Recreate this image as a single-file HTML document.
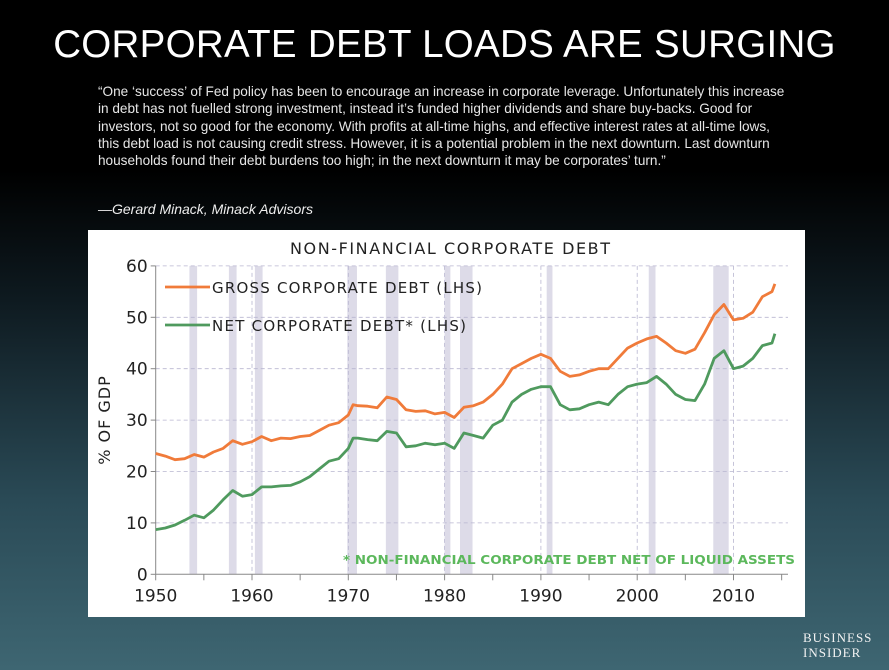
<!DOCTYPE html>
<html><head><meta charset="utf-8">
<style>
body{margin:0;width:889px;height:670px;overflow:hidden;font-family:"Liberation Sans",sans-serif;
background:linear-gradient(to bottom,#000 0px,#000 170px,#0e1a20 300px,#2a4a56 500px,#3e6672 670px);position:relative;}
#title{position:absolute;left:0;width:889px;top:23px;text-align:center;color:#fff;font-size:38.5px;letter-spacing:0.3px;}
#quote{position:absolute;left:98px;top:83px;color:#e6e6e6;font-size:13.6px;line-height:17.3px;white-space:nowrap;}
#attr{position:absolute;left:98px;top:201px;color:#eee;font-size:14px;font-style:italic;}
#chart{position:absolute;left:88px;top:230px;width:717px;height:387px;background:#fff;}
#logo{position:absolute;left:803px;top:630px;color:#f2f2f2;font-family:"Liberation Serif",serif;font-size:13px;line-height:15px;letter-spacing:1px;}
</style></head><body>
<div id="title">CORPORATE DEBT LOADS ARE SURGING</div>
<div id="quote">“One ‘success’ of Fed policy has been to encourage an increase in corporate leverage. Unfortunately this increase<br>in debt has not fuelled strong investment, instead it’s funded higher dividends and share buy-backs. Good for<br>investors, not so good for the economy. With profits at all-time highs, and effective interest rates at all-time lows,<br>this debt load is not causing credit stress. However, it is a potential problem in the next downturn. Last downturn<br>households found their debt burdens too high; in the next downturn it may be corporates’ turn.”</div>
<div id="attr">—Gerard Minack, Minack Advisors</div>
<div id="chart">
<svg id="svg" width="717" height="387" xmlns="http://www.w3.org/2000/svg" font-family="Verdana, 'DejaVu Sans', sans-serif"></svg>
</div>
<div id="logo">BUSINESS<br>INSIDER</div>
<script>
const yTicks=[0,10,20,30,40,50,60];
const xTicks=[1950,1960,1970,1980,1990,2000,2010];
const recessions=[[1953.5,1954.3],[1957.6,1958.4],[1960.3,1961.1],[1969.9,1970.9],[1973.9,1975.2],[1980,1980.6],[1981.6,1982.9],[1990.6,1991.2],[2001.2,2001.9],[2007.9,2009.5]];
const years=[1950,1951,1952,1953,1954,1955,1956,1957,1958,1959,1960,1961,1962,1963,1964,1965,1966,1967,1968,1969,1970,1970.5,1971,1972,1973,1974,1975,1976,1977,1978,1979,1980,1981,1982,1983,1984,1985,1986,1987,1988,1989,1990,1991,1992,1993,1994,1995,1996,1997,1998,1999,2000,2001,2002,2003,2004,2005,2006,2007,2008,2009,2010,2011,2012,2013,2014,2014.3];
const gross=[23.5,23,22.3,22.5,23.3,22.8,23.8,24.5,26,25.3,25.8,26.8,26,26.5,26.4,26.8,27,28,29,29.5,31,33,32.8,32.7,32.4,34.5,34,32,31.7,31.8,31.2,31.5,30.5,32.5,32.8,33.5,35,37,40,41,42,42.8,42,39.5,38.5,38.8,39.5,40,40,42,44,45,45.8,46.3,45,43.5,43,43.8,47,50.5,52.5,49.5,49.8,51,54,55,56.5];
const net=[8.7,9,9.6,10.5,11.5,11,12.5,14.5,16.3,15.2,15.5,17,17,17.2,17.3,18,19,20.5,22,22.5,24.5,26.5,26.5,26.2,26,27.8,27.5,24.8,25,25.5,25.2,25.5,24.5,27.5,27,26.5,29,30,33.5,35,36,36.5,36.5,33,32,32.2,33,33.5,33,35,36.5,37,37.3,38.5,37,35,34,33.8,37,42,43.5,40,40.5,42,44.5,45,46.8];
const X0=67.7,XS=9.63,Y0=344.3,YS=5.14,XR=700;
const x=v=>X0+(v-1950)*XS, y=v=>Y0-v*YS;
const svg=document.getElementById('svg');const NS='http://www.w3.org/2000/svg';
function mk(t,a,txt){const e=document.createElementNS(NS,t);for(const k in a)e.setAttribute(k,a[k]);if(txt!==undefined)e.textContent=txt;svg.appendChild(e);return e;}
recessions.forEach(r=>{const e=mk('rect',{x:x(r[0]),y:y(60),width:x(r[1])-x(r[0]),height:y(0)-y(60),fill:'#dddbe8'});

});
yTicks.forEach(t=>{if(t>0){const g=mk('line',{x1:X0,x2:XR,y1:y(t),y2:y(t),stroke:'#b8b6d0','stroke-dasharray':'4,3','stroke-width':0.8});

}
const l=mk('text',{x:X0-8,y:y(t)+6,'text-anchor':'end','font-size':17,fill:'#222'},t);


mk('line',{x1:X0-5,x2:X0,y1:y(t),y2:y(t),stroke:'#888'});});
for(let yr=1950;yr<=2015;yr+=5){mk('line',{x1:x(yr),x2:x(yr),y1:y(0),y2:y(0)+6,stroke:'#888'});}
xTicks.forEach(t=>{if(t>1950){const g=mk('line',{x1:x(t),x2:x(t),y1:y(60),y2:y(0),stroke:'#b8b6d0','stroke-dasharray':'4,3','stroke-width':0.8});

}
const l=mk('text',{x:x(t),y:y(0)+27,'text-anchor':'middle','font-size':17,fill:'#222'},t);

});
mk('line',{x1:X0,x2:X0,y1:y(60),y2:y(0),stroke:'#888'});
mk('line',{x1:X0,x2:XR,y1:y(0),y2:y(0),stroke:'#888'});
function line(data,col,name){const d=data.map((v,i)=>(i?'L':'M')+x(years[i]).toFixed(1)+','+y(v).toFixed(1)).join('');
const p=mk('path',{d:d,fill:'none',stroke:col,'stroke-width':2.8,'stroke-linejoin':'round'});

}
line(gross,'#f07b3a','gross-debt-line');
line(net,'#4f9a5e','net-debt-line');
const t=mk('text',{x:202,y:24,'font-size':16,textLength:320,lengthAdjust:'spacing',fill:'#222'},'NON-FINANCIAL CORPORATE DEBT');


const yl=mk('text',{x:0,y:0,'text-anchor':'middle','font-size':16,'letter-spacing':1,fill:'#222',transform:'translate(22,190) rotate(-90)'},'% OF GDP');


[['#f07b3a','GROSS CORPORATE DEBT (LHS)',57,270],['#4f9a5e','NET CORPORATE DEBT* (LHS)',95,254]].forEach(l=>{
mk('line',{x1:77,x2:122,y1:l[2],y2:l[2],stroke:l[0],'stroke-width':2.8});
const e=mk('text',{x:124,y:l[2]+6,'font-size':15,textLength:l[3],lengthAdjust:'spacing',fill:'#222'},l[1]);

});
const n=mk('text',{x:255,y:334,'font-size':12.5,'font-weight':'bold',textLength:452,lengthAdjust:'spacingAndGlyphs',fill:'#5cb85c'},'* NON-FINANCIAL CORPORATE DEBT NET OF LIQUID ASSETS');


</script>
</body></html>
